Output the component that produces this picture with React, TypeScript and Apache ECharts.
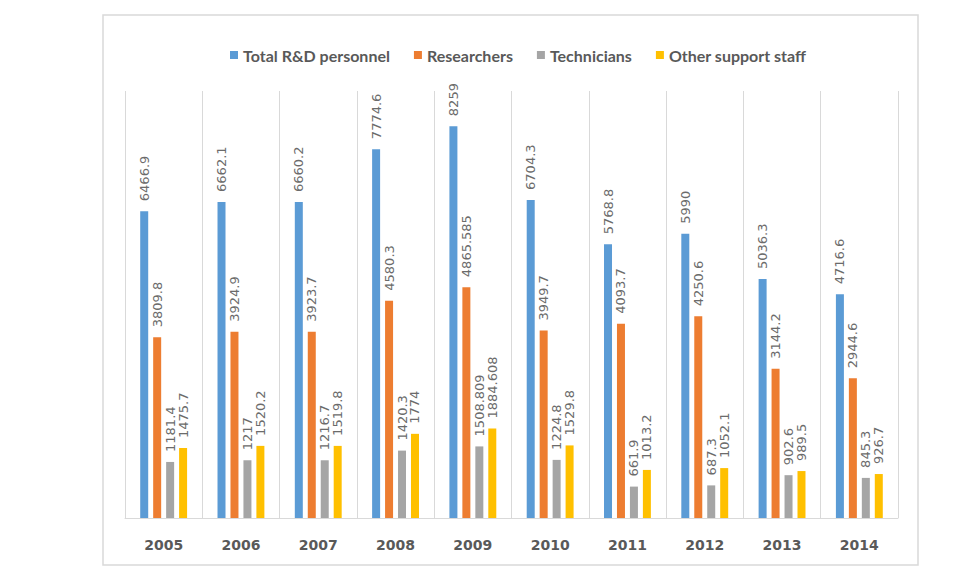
import React, { useEffect, useRef } from "react";
import * as echarts from "echarts";

const years = ["2005", "2006", "2007", "2008", "2009", "2010", "2011", "2012", "2013", "2014"];
const totalRD = [6466.9, 6662.1, 6660.2, 7774.6, 8259, 6704.3, 5768.8, 5990, 5036.3, 4716.6];
const researchers = [3809.8, 3924.9, 3923.7, 4580.3, 4865.585, 3949.7, 4093.7, 4250.6, 3144.2, 2944.6];
const technicians = [1181.4, 1217, 1216.7, 1420.3, 1508.809, 1224.8, 661.9, 687.3, 902.6, 845.3];
const otherStaff = [1475.7, 1520.2, 1519.8, 1774, 1884.608, 1529.8, 1013.2, 1052.1, 989.5, 926.7];

const seriesNames = ["Total R&D personnel", "Researchers", "Technicians", "Other support staff"];
const seriesData = [totalRD, researchers, technicians, otherStaff];
const colors = ["#5B9BD5", "#ED7D31", "#A5A5A5", "#FFC000"];

export default function App() {
  const ref = useRef<HTMLDivElement>(null);
  useEffect(() => {
    if (!ref.current) return;
    const chart = echarts.init(ref.current, null, { renderer: "svg" });
    chart.setOption({
      animation: false,
      backgroundColor: "#ffffff",
      color: colors,
      graphic: [
        {
          type: "rect",
          shape: { x: 103, y: 15, width: 815, height: 550 },
          style: { fill: "none", stroke: "#d9d9d9", lineWidth: 1.5 },
          silent: true,
        },
      ],
      legend: {
        top: 42,
        left: 225,
        itemWidth: 8,
        itemHeight: 8,
        itemGap: 24,
        icon: "rect",
        textStyle: { fontFamily: "Lato", fontWeight: "bold", fontSize: 16, color: "#595959" },
        data: seriesNames,
      },
      grid: { left: 125, right: 70, top: 91, bottom: 60, containLabel: false },
      xAxis: {
        type: "category",
        data: years,
        axisLine: { show: true, lineStyle: { color: "#d9d9d9", width: 1 } },
        axisTick: { show: false },
        splitLine: { show: true, interval: 0, lineStyle: { color: "#d9d9d9", width: 1 } },
        axisLabel: {
          margin: 20,
          fontFamily: "DejaVu Sans",
          fontWeight: "bold",
          fontSize: 14,
          color: "#595959",
        },
      },
      yAxis: {
        type: "value",
        min: 0,
        max: 9000,
        show: false,
        splitLine: { show: false },
      },
      series: seriesNames.map((name, i) => ({
        name,
        type: "bar",
        data: seriesData[i],
        barWidth: 8,
        barGap: "62%",
        itemStyle: { color: colors[i] },
        label: {
          show: true,
          position: "top",
          rotate: 90,
          align: "left",
          verticalAlign: "middle",
          distance: 10,
          fontFamily: "DejaVu Sans",
          fontSize: 13,
          color: "#6b6b6b",
          formatter: (p: any) => String(p.value),
        },
      })),
    });
    return () => chart.dispose();
  }, []);
  return (
    <div
      ref={ref}
      style={{ position: "fixed", left: 0, top: 0, width: 968, height: 578 }}
    />
  );
}
